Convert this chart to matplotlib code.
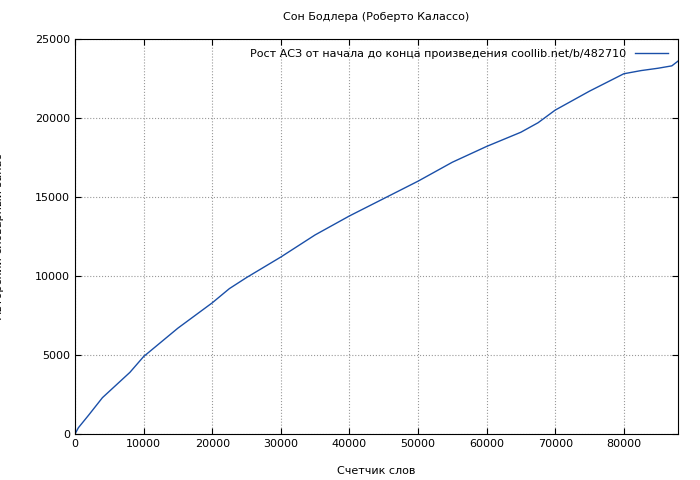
import matplotlib
matplotlib.use("Agg")
import matplotlib.pyplot as plt

words = [0, 500, 2000, 4000, 6000, 8000, 10000, 12500, 15000, 17500, 20000, 22500, 25000,
         30000, 35000, 40000, 45000, 50000, 55000, 60000, 65000, 67500, 70000, 75000,
         80000, 82500, 85000, 87000, 87900]
vocab = [0, 400, 1200, 2300, 3100, 3900, 4900, 5800, 6700, 7500, 8300, 9200, 9900,
         11200, 12600, 13800, 14900, 16000, 17200, 18200, 19100, 19700, 20500, 21700,
         22800, 23000, 23150, 23300, 23600]

plt.rcParams['font.family'] = ['DejaVu Sans']
fig = plt.figure(figsize=(7, 4.8), dpi=100)
ax = fig.add_axes([75/700, 1-434/480, (678-75)/700, (434-39)/480])
ax.plot(words, vocab, color='#1a4fa8', lw=1,
        label='Рост АСЗ от начала до конца произведения coollib.net/b/482710')
ax.set_xlim(0, 87900)
ax.set_ylim(0, 25000)
ax.set_xticks(range(0, 87901, 10000))
ax.set_yticks(range(0, 25001, 5000))
ax.tick_params(labelsize=8, direction='in', length=4, top=True, right=True)
ax.grid(True, linestyle=':', color='#999999', lw=0.8)
ax.set_xlabel('Счетчик слов', fontsize=8, labelpad=12)
ax.set_ylabel('Авторский словарный запас', fontsize=8, labelpad=22)
ax.set_title('Сон Бодлера (Роберто Калассо)', fontsize=8, pad=14)
leg = ax.legend(loc='upper right', fontsize=8, frameon=False, markerfirst=False,
                handlelength=3)
fig.savefig('out.png', dpi=100)
